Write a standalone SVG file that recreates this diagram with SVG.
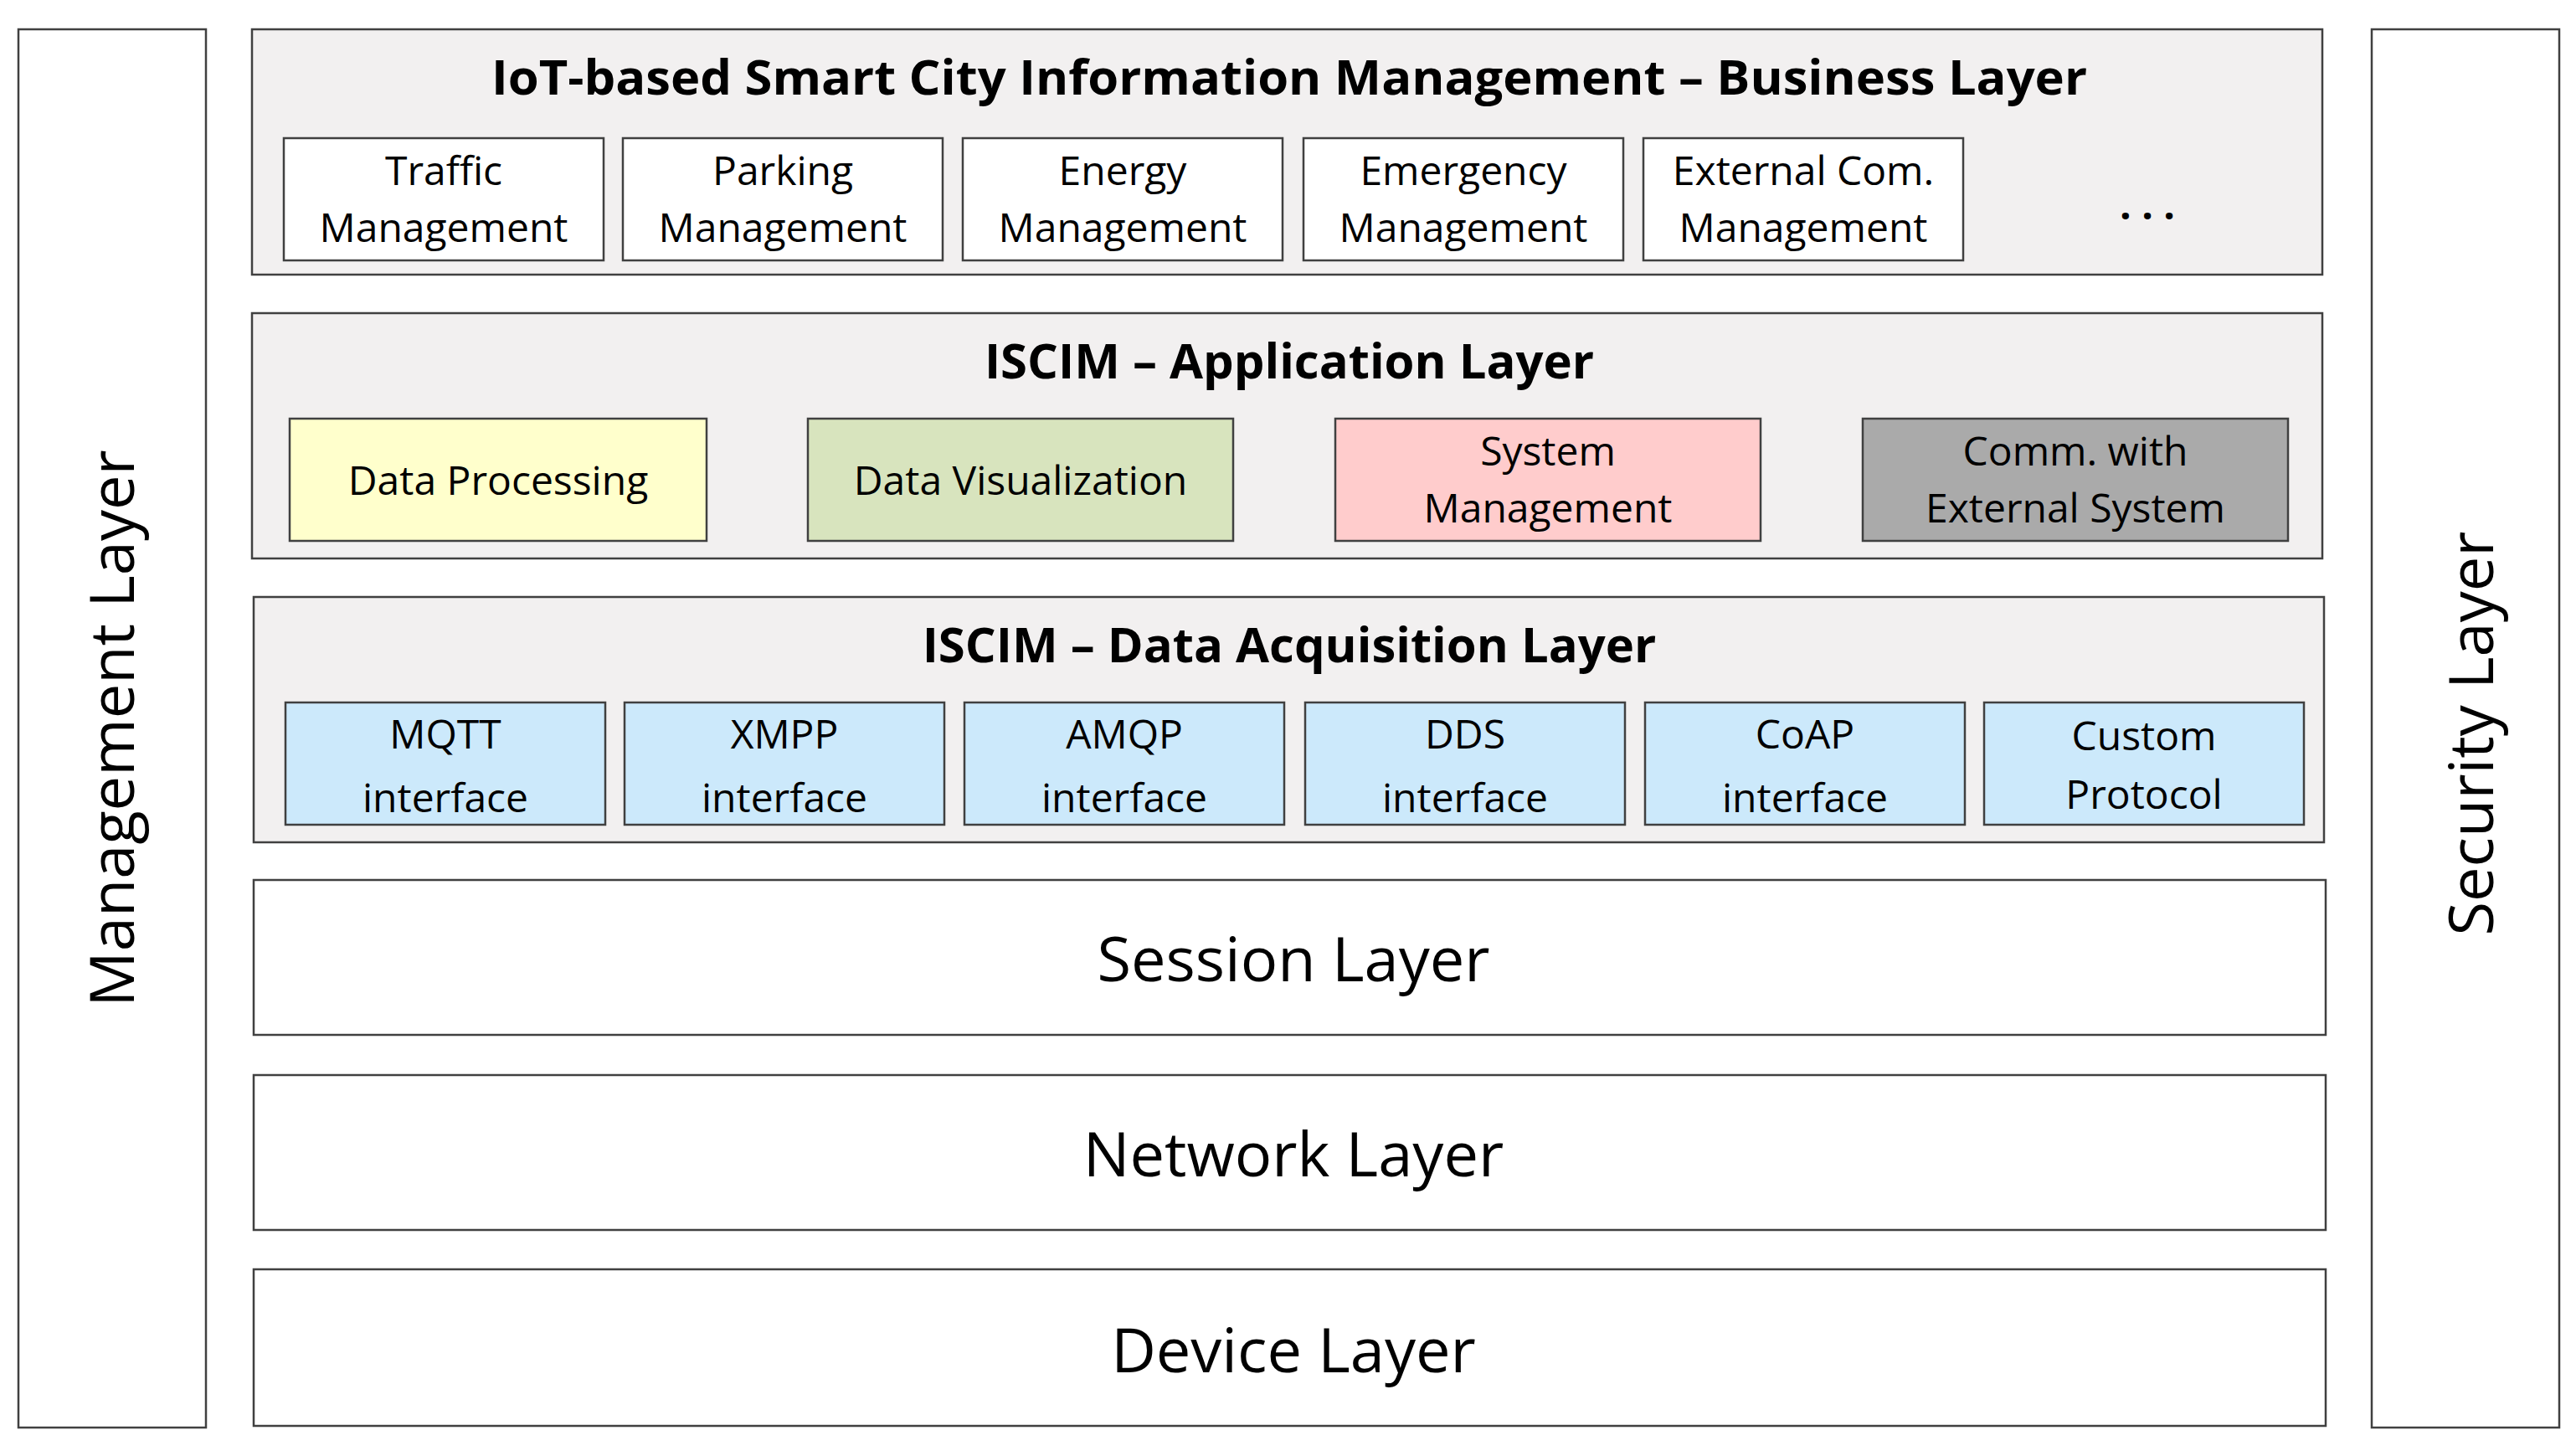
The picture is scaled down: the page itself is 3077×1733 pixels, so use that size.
<svg xmlns="http://www.w3.org/2000/svg" width="3077" height="1733" viewBox="0 0 3077 1733">
<style>
rect{stroke:#404040;stroke-width:2.5}
rect.bg{stroke:none;fill:#fff}
.lay{fill:#F2F0F0}
.w{fill:#fff}
text{font-family:"Open Sans","Liberation Sans",sans-serif;fill:#000;text-anchor:middle}
.t{font-size:58px;font-weight:bold}
.s{font-size:48px}
.b{font-size:74px}
</style>
<rect class="bg" width="3077" height="1733"/>
<g id="management"><rect class="w" x="22" y="35" width="224" height="1670"/><text class="b" transform="translate(160,870) rotate(-90)">Management Layer</text></g>
<g id="security"><rect class="w" x="2833" y="35" width="224" height="1670"/><text class="b" transform="translate(2978,876) rotate(-90)">Security Layer</text></g>
<g id="business"><rect class="lay" x="301" y="35" width="2473" height="293"/>
<text class="t" x="1540" y="113" textLength="1906" lengthAdjust="spacingAndGlyphs">IoT-based Smart City Information Management – Business Layer</text>
<g class="s">
<rect class="w" x="339" y="165" width="382" height="146"/><text x="530" y="221">Traffic</text><text x="530" y="289">Management</text>
<rect class="w" x="744" y="165" width="382" height="146"/><text x="935" y="221">Parking</text><text x="935" y="289">Management</text>
<rect class="w" x="1150" y="165" width="382" height="146"/><text x="1341" y="221">Energy</text><text x="1341" y="289">Management</text>
<rect class="w" x="1557" y="165" width="382" height="146"/><text x="1748" y="221">Emergency</text><text x="1748" y="289">Management</text>
<rect class="w" x="1963" y="165" width="382" height="146"/><text x="2154" y="221">External Com.</text><text x="2154" y="289">Management</text>
<text x="2565" y="262" font-weight="bold">.  .  .</text></g></g>
<g id="application"><rect class="lay" x="301" y="374" width="2473" height="293"/>
<text class="t" x="1540" y="452">ISCIM – Application Layer</text>
<g class="s">
<rect x="346" y="500" width="498" height="146" fill="#FFFFCC"/><text x="595" y="591">Data Processing</text>
<rect x="965" y="500" width="508" height="146" fill="#D8E4BE"/><text x="1219" y="591">Data Visualization</text>
<rect x="1595" y="500" width="508" height="146" fill="#FFCCCC"/><text x="1849" y="556">System</text><text x="1849" y="624">Management</text>
<rect x="2225" y="500" width="508" height="146" fill="#AAAAAA"/><text x="2479" y="556">Comm. with</text><text x="2479" y="624">External System</text></g></g>
<g id="acquisition"><rect class="lay" x="303" y="713" width="2473" height="293"/>
<text class="t" x="1540" y="791">ISCIM – Data Acquisition Layer</text>
<g class="s">
<rect x="341" y="839" width="382" height="146" fill="#CCE9FB"/><text x="532" y="894">MQTT</text><text x="532" y="970">interface</text>
<rect x="746" y="839" width="382" height="146" fill="#CCE9FB"/><text x="937" y="894">XMPP</text><text x="937" y="970">interface</text>
<rect x="1152" y="839" width="382" height="146" fill="#CCE9FB"/><text x="1343" y="894">AMQP</text><text x="1343" y="970">interface</text>
<rect x="1559" y="839" width="382" height="146" fill="#CCE9FB"/><text x="1750" y="894">DDS</text><text x="1750" y="970">interface</text>
<rect x="1965" y="839" width="382" height="146" fill="#CCE9FB"/><text x="2156" y="894">CoAP</text><text x="2156" y="970">interface</text>
<rect x="2370" y="839" width="382" height="146" fill="#CCE9FB"/><text x="2561" y="896">Custom</text><text x="2561" y="966">Protocol</text></g></g>
<g id="session"><rect class="w" x="303" y="1051" width="2475" height="185"/><text class="b" x="1545" y="1172">Session Layer</text></g>
<g id="network"><rect class="w" x="303" y="1284" width="2475" height="185"/><text class="b" x="1545" y="1405">Network Layer</text></g>
<g id="device"><rect class="w" x="303" y="1516" width="2475" height="187"/><text class="b" x="1545" y="1639">Device Layer</text></g>
<g id="connectors"/>
</svg>
